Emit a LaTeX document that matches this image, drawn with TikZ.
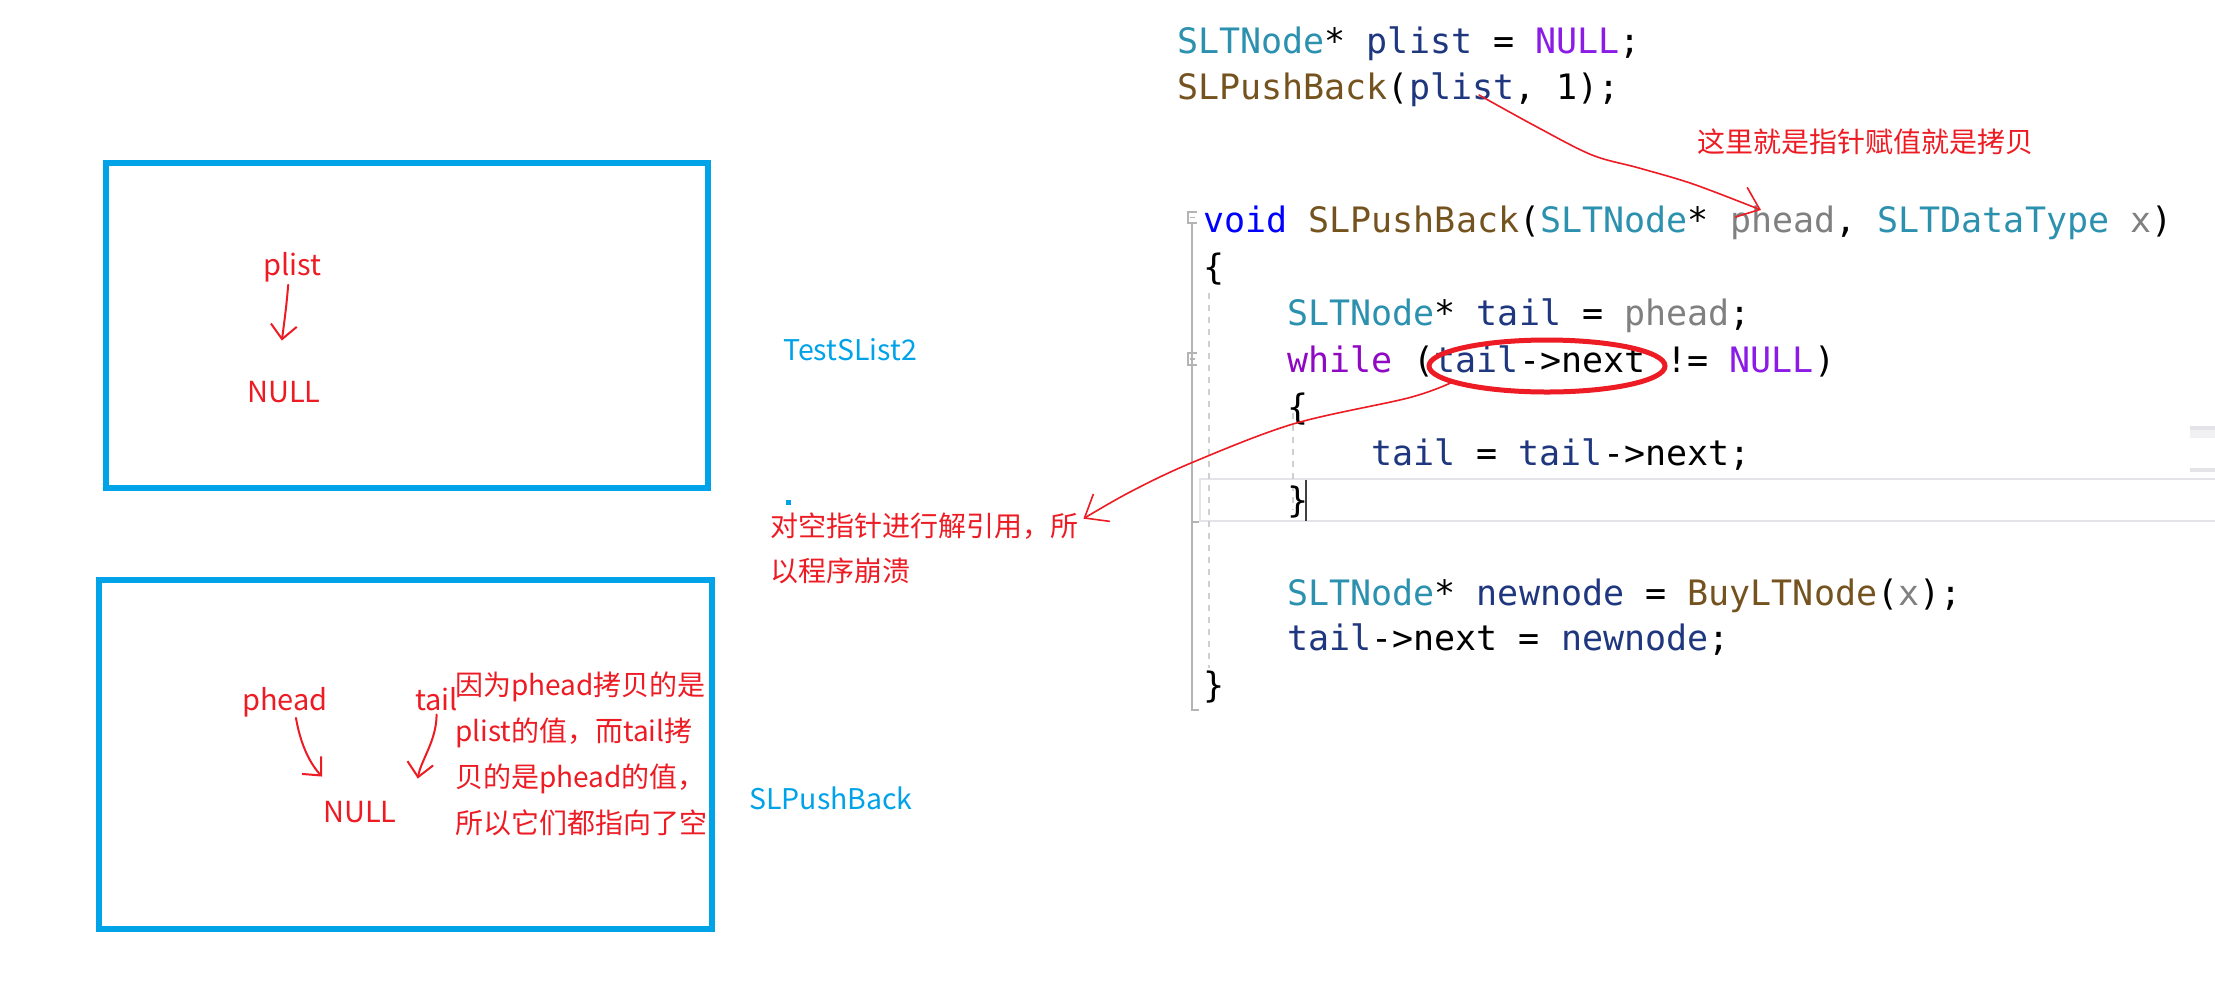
\documentclass[tikz,border=0pt]{standalone}
\usepackage{fontspec}
\setmonofont{DejaVu Sans Mono}
\newfontfamily\cjk{Noto Sans CJK SC}
\usetikzlibrary{arrows.meta,shapes.geometric}
\definecolor{pblue}{HTML}{00A2E8}
\definecolor{pred}{HTML}{ED1C24}
\definecolor{ctype}{HTML}{2B91AF}
\definecolor{cvar}{HTML}{1F377F}
\definecolor{cmac}{HTML}{8A1CE6}
\definecolor{cfun}{HTML}{74531F}
\definecolor{ckw}{HTML}{0000FF}
\definecolor{cpar}{HTML}{808080}
\definecolor{cctl}{HTML}{8F08C4}
\definecolor{gut}{HTML}{B4B4B4}
\definecolor{guide}{HTML}{CFCFCF}
\definecolor{hl}{HTML}{E4E4E8}
\newcommand\xTy[1]{\textcolor{ctype}{#1}}
\newcommand\xVa[1]{\textcolor{cvar}{#1}}
\newcommand\xMa[1]{\textcolor{cmac}{#1}}
\newcommand\xFu[1]{\textcolor{cfun}{#1}}
\newcommand\xKw[1]{\textcolor{ckw}{#1}}
\newcommand\xPa[1]{\textcolor{cpar}{#1}}
\newcommand\xCt[1]{\textcolor{cctl}{#1}}
\begin{document}
\begin{tikzpicture}[x=1pt,y=-1pt,
  cline/.style={anchor=base west,inner sep=0pt,font=\fontsize{35}{46}\selectfont\ttfamily},
  note/.style={anchor=base west,inner sep=0pt,text=pred,font=\fontsize{28}{34}\selectfont\cjk},
  rlbl/.style={anchor=base west,inner sep=0pt,text=pred,font=\fontsize{29}{35}\selectfont\cjk},
  blbl/.style={anchor=base west,inner sep=0pt,text=pblue,font=\fontsize{28.5}{34}\selectfont\cjk},
  frame/.style={draw=pblue,line width=5.5pt},
  hand/.style={draw=pred,line width=2pt,line cap=round,line join=round,-{Straight Barb[length=14pt,width=26pt,line width=2pt]}},
  thinhand/.style={draw=pred,line width=1.6pt,line cap=round,line join=round,-{Straight Barb[length=20pt,width=32pt,line width=1.6pt]}},
  guideline/.style={draw=guide,line width=1.5pt,dash pattern=on 6pt off 6pt}]
\useasboundingbox (0,0) rectangle (2215,986);
\fill[white] (0,0) rectangle (2215,986);

% ---------- editor decorations ----------
\draw[hl,line width=2.5pt] (1200,479) rectangle (2230,521);
\fill[hl] (2190,426) rectangle (2215,430);
\fill[hl!50] (2190,430) rectangle (2215,438);
\fill[hl] (2190,468) rectangle (2215,472);
\draw[gut,line width=1.5pt] (1192,222) -- (1192,710) -- (1199,710);
\draw[gut,line width=1.5pt] (1192,522) -- (1199,522);
\draw[gut,line width=1.2pt] (1197,212) -- (1188,212) -- (1188,223) -- (1197,223);
\draw[gut,line width=1.2pt] (1190,217.5) -- (1195,217.5);
\draw[gut,line width=1.2pt] (1197,353) -- (1188,353) -- (1188,365) -- (1197,365);
\draw[gut,line width=1.2pt] (1190,359) -- (1195,359);
\draw[guideline] (1209,293) -- (1209,668);
\draw[guideline] (1293,413) -- (1293,510);
\draw[black!75,line width=2pt] (1306,480) -- (1306,521);

% ---------- code ----------
\node[cline] (c1) at (1177,53) {\xTy{SLTNode}* \xVa{plist} = \xMa{NULL};};
\node[cline] (c2) at (1177,99) {\xFu{SLPushBack}(\xVa{plist}, 1);};
\node[cline] (c3) at (1203,232) {\xKw{void} \xFu{SLPushBack}(\xTy{SLTNode}* \xPa{phead}, \xTy{SLTDataType} \xPa{x})};
\node[cline] (c4) at (1203,279) {\{};
\node[cline] (c5) at (1287,325) {\xTy{SLTNode}* \xVa{tail} = \xPa{phead};};
\node[cline] (c6) at (1287,372) {\xCt{while} (\xVa{tail}->next != \xMa{NULL})};
\node[cline] (c7) at (1287,419) {\{};
\node[cline] (c8) at (1371,465) {\xVa{tail} = \xVa{tail}->next;};
\node[cline] (c9) at (1287,512) {\}};
\node[cline] (c10) at (1287,605) {\xTy{SLTNode}* \xVa{newnode} = \xFu{BuyLTNode}(\xPa{x});};
\node[cline] (c11) at (1287,650) {\xVa{tail}->next = \xVa{newnode};};
\node[cline] (c12) at (1203,697) {\}};

% ---------- annotations on code ----------
\node[note] (a1) at (1697,152) {这里就是指针赋值就是拷贝};
\coordinate (plistRef) at (1479,95);
\coordinate (pheadRef) at (1761,210);
\draw[thinhand] plot[smooth,tension=0.55] coordinates {(plistRef) (1537,127) (1592,155) (1639,168) (1693,184) (pheadRef)};

\node[draw=pred,line width=5pt,ellipse,inner sep=0pt,minimum width=236pt,minimum height=52pt] (ell) at (1547,366) {};

\node[note] (a2a) at (770,536) {对空指针进行解引用，所};
\node[note] (a2b) at (770,581) {以程序崩溃};
\draw[thinhand] plot[smooth,tension=0.55] coordinates {(ell.190) (1408,398) (1293,424) (1191,463) (1130,492) ([xshift=5pt,yshift=7pt]a2a.east)};

\node[blbl] (t1) at (783,360) {TestSList2};
\fill[pblue] (786,500) rectangle (791,505);
\node[blbl] (t2) at (749,809) {SLPushBack};

% ---------- frame 1 ----------
\draw[frame] (106,163) rectangle (708,488);
\node[rlbl] (plistA) at (263,275) {plist};
\node[rlbl] (nullA) at (247,402) {NULL};
\draw[hand] ([xshift=-4pt,yshift=-3pt]plistA.south) .. controls ([xshift=-6pt,yshift=-25pt]plistA.south) .. ([xshift=-2pt,yshift=40pt]nullA.north);

% ---------- frame 2 ----------
\draw[frame] (99,580) rectangle (712,929);
\node[rlbl] (pheadB) at (242,710) {phead};
\node[rlbl] (tailB) at (415,710) {tail};
\node[rlbl] (nullB) at (323,822) {NULL};
\draw[hand] ([xshift=11pt,yshift=-1pt]pheadB.south) .. controls ([xshift=16pt,yshift=-30pt]pheadB.south) and ([xshift=-12pt,yshift=36pt]nullB.north west) .. ([xshift=-1pt,yshift=24pt]nullB.north west);
\draw[hand] ([yshift=-4pt]tailB.south) .. controls ([yshift=-30pt]tailB.south) and ([xshift=24pt,yshift=40pt]nullB.north east) .. ([xshift=21pt,yshift=22pt]nullB.north east);

\node[note] (b1) at (455,695) {因为phead拷贝的是};
\node[note] (b2) at (455,741) {plist的值，而tail拷};
\node[note] (b3) at (455,787) {贝的是phead的值，};
\node[note] (b4) at (455,833) {所以它们都指向了空};
\end{tikzpicture}
\end{document}
